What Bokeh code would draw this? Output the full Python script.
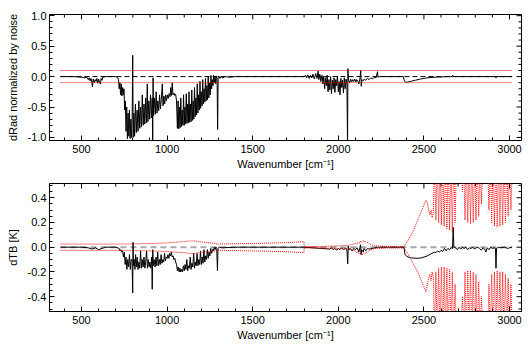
from bokeh.plotting import figure
from bokeh.models import Range1d, FixedTicker, PrintfTickFormatter
from bokeh.layouts import column
from bokeh.embed import file_html
from bokeh.resources import INLINE

FONT = "Liberation Sans"

# ---------------- data ----------------
x_ticks = [500, 1000, 1500, 2000, 2500, 3000]
x_minor = [400, 600, 700, 800, 900, 1100, 1200, 1300, 1400, 1600, 1700, 1800, 1900,
           2100, 2200, 2300, 2400, 2600, 2700, 2800, 2900, 3000]
top_yticks = [-1.0, -0.5, 0.0, 0.5, 1.0]
top_yminor = [-1.0, -0.9, -0.8, -0.7, -0.6, -0.4, -0.3, -0.2, -0.1, 0.1, 0.2, 0.3, 0.4,
              0.6, 0.7, 0.8, 0.9]
bot_yticks = [-0.4, -0.2, 0.0, 0.2, 0.4]
bot_yminor = [-0.5, -0.45, -0.35, -0.3, -0.25, -0.15, -0.1, -0.05, 0.05, 0.1, 0.15, 0.25,
              0.3, 0.35, 0.45, 0.5]

# dRad normalized by noise (wavenumber, value)
drad_pts = [
    (377, 0), (450, 0), (500, -0.01), (520, -0.02), (530, -0.01), (540, -0.05), (545, -0.02),
    (550, -0.07), (555, -0.03), (560, -0.09), (564, -0.17), (568, -0.04), (574, -0.1),
    (580, -0.05), (585, -0.08), (590, -0.03), (595, -0.11), (600, -0.04), (605, -0.09),
    (610, -0.12), (615, -0.03), (620, -0.06), (625, -0.01), (640, 0), (700, 0), (712, -0.02),
    (716, -0.05), (720, -0.2), (724, -0.1), (728, -0.3), (732, -0.12), (736, -0.32),
    (740, -0.18), (744, -0.3), (748, -0.2), (752, -0.55), (756, -0.4), (760, -0.9),
    (764, -0.5), (768, -1.02), (772, -0.6), (776, -0.98), (780, -0.55), (784, -1.02),
    (788, -0.7), (792, -1.0), (796, -0.65), (799, 0.35), (802, -1.0),
    (806, -0.6), (810, -0.98), (815, -0.45), (820, -0.92), (825, -0.55), (830, -0.9),
    (835, -0.4), (840, -0.85), (845, -0.5), (850, -0.83), (855, -0.3), (860, -0.8),
    (865, -0.45), (870, -0.78), (875, -0.35), (880, -0.76), (884, -0.12), (888, -0.74),
    (893, -0.4), (898, -0.7), (903, -0.3), (908, -0.68), (913, -0.35), (916, -1.1),
    (918, -0.02), (921, -0.64), (926, -0.35), (931, -0.62), (936, -0.25), (941, -0.6),
    (946, -0.4), (951, -0.56), (956, -0.3), (961, -0.53), (966, -0.38), (972, -0.12),
    (976, -0.48), (981, -0.32), (986, -0.45), (991, -0.3), (996, -0.4), (1001, -0.3),
    (1006, -0.36), (1012, -0.28), (1017, -0.33), (1021, -0.18), (1025, -0.31), (1030, -0.1),
    (1034, -0.3), (1040, -0.27), (1045, -0.31), (1050, -0.29), (1055, -0.4),
    (1060, -0.85), (1064, -0.4), (1068, -0.86), (1072, -0.5), (1076, -0.84), (1080, -0.35),
    (1084, -0.82), (1088, -0.55), (1092, -0.8), (1096, -0.3), (1100, -0.8), (1104, -0.5),
    (1108, -0.78), (1112, -0.28), (1116, -0.77), (1120, -0.45), (1124, -0.76), (1128, -0.25),
    (1132, -0.75), (1136, -0.45), (1140, -0.74), (1144, -0.22), (1148, -0.72), (1152, -0.4),
    (1156, -0.7), (1160, -0.18), (1164, -0.66), (1168, -0.35), (1172, -0.63), (1176, -0.12),
    (1180, -0.6), (1184, -0.3), (1188, -0.55), (1192, -0.08), (1196, -0.52), (1200, -0.25),
    (1204, -0.48), (1208, -0.05), (1212, -0.45), (1216, -0.2), (1220, -0.42), (1224, -0.03),
    (1228, -0.4), (1232, -0.15), (1236, -0.38), (1240, 0.0), (1244, -0.35), (1248, -0.1),
    (1252, -0.3), (1256, 0.02), (1260, -0.2), (1264, -0.05), (1268, -0.15), (1272, 0.02),
    (1276, -0.1), (1280, 0.0), (1284, -0.12), (1288, 0.01), (1292, -0.05), (1295, -0.87),
    (1298, -0.02), (1302, 0.01), (1308, -0.03), (1315, 0.0), (1325, -0.02), (1340, 0.0),
    (1360, -0.01), (1400, 0.0), (1800, 0.0),
    (1810, 0.02), (1815, -0.02), (1822, 0.03), (1830, -0.03), (1838, 0.02), (1845, -0.02),
    (1852, 0.04), (1860, -0.04), (1868, 0.05), (1875, -0.03), (1882, 0.09), (1886, -0.05),
    (1892, 0.04), (1898, -0.08), (1905, 0.02), (1910, -0.12), (1915, 0.01), (1920, -0.2),
    (1925, -0.02), (1930, -0.15), (1935, 0.02), (1940, -0.25), (1945, -0.05), (1950, -0.22),
    (1955, 0.0), (1960, -0.28), (1965, -0.06), (1970, -0.2), (1975, -0.02), (1980, -0.26),
    (1985, -0.05), (1990, -0.15), (1995, 0.01), (2000, -0.25), (2005, -0.08), (2010, -0.3),
    (2015, -0.03), (2020, -0.18), (2025, -0.06), (2030, -0.27), (2035, -0.02), (2040, -0.2),
    (2045, -0.04), (2050, -0.1), (2054, -1.1), (2056, 0.13), (2060, -0.06), (2066, -0.1),
    (2072, -0.04), (2078, -0.09), (2084, -0.05), (2090, -0.08), (2096, -0.04), (2102, -0.09),
    (2108, -0.05), (2114, -0.07), (2120, -0.12), (2126, -0.04), (2131, 0.1), (2134, -0.16),
    (2138, -0.05), (2145, -0.07), (2152, -0.04), (2160, -0.06), (2170, -0.03), (2180, -0.05),
    (2190, -0.02), (2200, -0.04), (2210, -0.01), (2220, -0.02), (2229, 0.08), (2232, -0.01),
    (2240, 0.0), (2380, 0.0),
    (2385, -0.06), (2392, -0.09), (2400, -0.095), (2420, -0.08), (2450, -0.06), (2480, -0.04),
    (2510, -0.025), (2540, -0.015), (2580, -0.008), (2620, -0.003), (2665, 0.0), (2668, 0.02),
    (2672, 0.0), (2918, 0.0), (2921, -0.02), (2924, 0.0), (3015, 0.0),
]

# dTB [K] (wavenumber, value)
dtb_pts = [
    (377, 0), (500, 0), (540, -0.005), (560, -0.015), (580, -0.005), (600, -0.02), (620, -0.01),
    (640, 0), (700, 0), (720, -0.01), (725, -0.03), (730, -0.02), (735, -0.04), (740, -0.03),
    (745, -0.08), (750, -0.04), (755, -0.14), (760, -0.08), (765, -0.18), (770, -0.1),
    (775, -0.16), (780, -0.06), (785, -0.18), (790, -0.1), (795, -0.1), (799, -0.37),
    (801, 0.04), (804, -0.15), (808, -0.1), (812, -0.18), (816, -0.06), (820, -0.16),
    (825, -0.08), (830, -0.18), (835, -0.12), (840, -0.17), (845, -0.03), (850, -0.17),
    (855, -0.1), (860, -0.16), (865, -0.08), (870, -0.17), (875, -0.12), (880, -0.03),
    (885, -0.17), (890, -0.1), (895, -0.16), (900, -0.12), (905, -0.17), (910, -0.08),
    (913, -0.34), (916, -0.02), (920, -0.15), (925, -0.1), (930, -0.16), (935, -0.08),
    (940, -0.15), (945, -0.04), (950, -0.15), (955, -0.1), (960, -0.14), (965, -0.06),
    (970, -0.13), (975, -0.1), (980, -0.12), (985, -0.05), (990, -0.11), (995, -0.08),
    (1000, -0.09), (1005, -0.06), (1010, -0.09), (1015, -0.05), (1020, -0.07), (1025, -0.04),
    (1030, -0.08), (1035, -0.07), (1040, -0.1), (1045, -0.09), (1050, -0.12), (1055, -0.14),
    (1060, -0.19), (1065, -0.16), (1070, -0.2), (1075, -0.17), (1080, -0.2), (1085, -0.18),
    (1090, -0.2), (1095, -0.15), (1100, -0.19), (1105, -0.14), (1110, -0.18), (1115, -0.1),
    (1120, -0.19), (1125, -0.15), (1130, -0.17), (1135, -0.08), (1140, -0.18), (1145, -0.13),
    (1150, -0.16), (1155, -0.05), (1160, -0.17), (1165, -0.12), (1170, -0.15), (1175, -0.05),
    (1180, -0.15), (1185, -0.1), (1190, -0.14), (1195, -0.03), (1200, -0.14), (1205, -0.08),
    (1210, -0.13), (1215, -0.02), (1220, -0.12), (1225, -0.07), (1230, -0.1), (1235, -0.02),
    (1240, -0.09), (1245, -0.04), (1250, -0.07), (1255, -0.01), (1260, -0.05), (1265, -0.02),
    (1270, -0.03), (1275, 0.0), (1280, -0.02), (1285, 0.0), (1290, -0.01), (1294, -0.19),
    (1297, -0.01), (1305, 0.0), (1320, -0.005), (1400, 0), (1800, 0),
    (1850, -0.005), (1900, -0.01), (1950, -0.015), (1960, -0.005), (1970, -0.02), (1980, -0.01),
    (1990, -0.025), (2000, -0.01), (2010, -0.02), (2020, -0.005), (2030, -0.02), (2040, -0.01),
    (2050, -0.015), (2055, -0.135), (2058, 0.01), (2062, -0.02), (2070, -0.01), (2080, -0.03),
    (2090, -0.01), (2100, -0.02), (2110, -0.005), (2120, -0.04), (2130, 0.02), (2133, -0.06),
    (2136, -0.02), (2145, -0.04), (2150, -0.01), (2160, -0.03), (2170, -0.01), (2180, -0.015),
    (2200, -0.01), (2230, 0.0), (2383, 0.0),
    (2390, -0.06), (2400, -0.075), (2420, -0.085), (2440, -0.088), (2460, -0.09),
    (2480, -0.088), (2500, -0.08), (2520, -0.07), (2540, -0.055), (2560, -0.04), (2570, -0.045),
    (2580, -0.03), (2590, -0.04), (2600, -0.025), (2610, -0.035), (2620, -0.01), (2630, -0.03),
    (2640, -0.01), (2650, -0.02), (2660, -0.005), (2667, -0.01), (2671, 0.16), (2675, 0.0),
    (2685, -0.005), (2695, -0.02), (2705, 0.0), (2715, -0.015), (2725, 0.0), (2735, -0.01),
    (2745, 0.0), (2755, -0.02), (2765, -0.005), (2775, -0.01), (2785, 0.0), (2795, -0.015),
    (2805, -0.005), (2815, 0.0), (2825, -0.01), (2835, -0.025), (2845, -0.005), (2855, -0.015),
    (2862, -0.04), (2870, -0.005), (2880, -0.02), (2890, 0.0), (2900, -0.01), (2910, -0.005),
    (2918, -0.01), (2921, -0.17), (2924, -0.01), (2935, 0.0), (2950, -0.005), (2970, 0.0),
    (2990, -0.01), (3000, -0.005), (3015, 0.0),
]

# noise envelope in dTB: (wavenumber, upper, lower)
noise_pts = [
    (377, 0.025, -0.025), (500, 0.025, -0.025), (600, 0.025, -0.025), (700, 0.025, -0.025),
    (800, 0.027, -0.027), (900, 0.03, -0.03), (1000, 0.035, -0.035), (1050, 0.04, -0.04),
    (1100, 0.045, -0.045), (1130, 0.05, -0.05), (1150, 0.052, -0.052), (1170, 0.048, -0.048),
    (1200, 0.042, -0.042), (1250, 0.035, -0.035), (1300, 0.025, -0.025), (1400, 0.028, -0.028),
    (1500, 0.03, -0.03), (1600, 0.033, -0.033), (1700, 0.037, -0.037), (1799, 0.045, -0.045),
    (1801, 0.006, -0.006), (1900, 0.006, -0.006), (2000, 0.01, -0.01), (2050, 0.015, -0.015),
    (2080, 0.02, -0.02), (2100, 0.03, -0.03), (2108, 0.022, -0.045), (2115, 0.04, -0.035),
    (2122, 0.03, -0.055), (2130, 0.05, -0.045), (2137, 0.04, -0.065), (2145, 0.055, -0.05),
    (2152, 0.04, -0.06), (2160, 0.045, -0.045), (2175, 0.035, -0.035), (2190, 0.02, -0.02),
    (2210, 0.012, -0.012), (2250, 0.008, -0.008), (2300, 0.006, -0.006), (2383, 0.006, -0.006),
    (2395, 0.03, -0.03), (2410, 0.06, -0.06), (2425, 0.1, -0.1), (2440, 0.14, -0.14),
    (2455, 0.19, -0.18), (2470, 0.24, -0.22), (2485, 0.29, -0.27), (2500, 0.34, -0.32),
    (2512, 0.38, -0.36), (2520, 0.36, -0.3), (2528, 0.3, -0.25), (2535, 0.26, -0.22),
    (2542, 0.3, -0.27), (2548, 0.24, -0.2), (2555, 0.28, -0.24), (2562, 0.7, -0.7),
    (2570, 0.22, -0.2), (2578, 0.7, -0.7), (2586, 0.2, -0.17), (2594, 0.7, -0.7),
    (2602, 0.18, -0.16), (2610, 0.7, -0.7), (2618, 0.17, -0.16), (2626, 0.7, -0.7),
    (2634, 0.15, -0.17), (2642, 0.7, -0.7), (2650, 0.14, -0.18), (2658, 0.7, -0.7),
    (2666, 0.12, -0.2), (2674, 0.7, -0.7), (2682, 0.2, -0.3), (2690, 0.7, -0.7),
    (2700, 0.6, -0.6), (2715, 0.7, -0.7), (2725, 0.45, -0.4), (2732, 0.7, -0.7),
    (2740, 0.22, -0.2), (2748, 0.7, -0.7), (2756, 0.2, -0.19), (2764, 0.7, -0.7),
    (2772, 0.19, -0.19), (2780, 0.7, -0.7), (2788, 0.2, -0.2), (2796, 0.7, -0.7),
    (2804, 0.22, -0.22), (2812, 0.7, -0.7), (2820, 0.25, -0.28), (2828, 0.7, -0.7),
    (2836, 0.35, -0.4), (2845, 0.7, -0.7), (2860, 0.6, -0.6), (2872, 0.7, -0.7),
    (2880, 0.3, -0.3), (2888, 0.7, -0.7), (2896, 0.2, -0.22), (2904, 0.7, -0.7),
    (2912, 0.17, -0.2), (2920, 0.7, -0.7), (2928, 0.16, -0.19), (2936, 0.7, -0.7),
    (2944, 0.17, -0.2), (2952, 0.7, -0.7), (2960, 0.18, -0.2), (2968, 0.7, -0.7),
    (2976, 0.2, -0.22), (2984, 0.7, -0.7), (2992, 0.25, -0.25), (3000, 0.7, -0.7),
    (3008, 0.3, -0.3), (3015, 0.6, -0.6),
]

span_w = [377, 3015]
thresh_hi = [0.1, 0.1]
thresh_lo = [-0.1, -0.1]
zero_line = [0.0, 0.0]

drad_w = [p[0] for p in drad_pts]
drad_v = [p[1] for p in drad_pts]
dtb_w = [p[0] for p in dtb_pts]
dtb_v = [p[1] for p in dtb_pts]
noise_w = [p[0] for p in noise_pts]
noise_hi = [p[1] for p in noise_pts]
noise_lo = [p[2] for p in noise_pts]

XMIN, XMAX = 313, 3070
FRAME_W = 472


def style_axis(ax, ticks, minor, fmt=None):
    ax.ticker = FixedTicker(ticks=ticks, minor_ticks=minor)
    ax.major_tick_in = 5
    ax.major_tick_out = 0
    ax.minor_tick_in = 3
    ax.minor_tick_out = 0
    ax.axis_line_color = "black"
    ax.major_tick_line_color = "black"
    ax.minor_tick_line_color = "black"
    ax.major_label_text_font = FONT
    ax.major_label_text_color = "black"
    ax.major_label_text_font_size = "11px"
    ax.axis_label_text_font = FONT
    ax.axis_label_text_font_style = "normal"
    ax.axis_label_text_font_size = "11px"
    ax.axis_label_text_color = "black"
    if fmt is not None:
        ax.formatter = fmt


def mirror_ticks(p, ymin, ymax, frame_h, yticks, yminor):
    # tick marks on the top and right frame edges (no labels), as in the original
    dx_maj = (XMAX - XMIN) * 5.0 / FRAME_W
    dx_min = (XMAX - XMIN) * 3.0 / FRAME_W
    dy_maj = (ymax - ymin) * 5.0 / frame_h
    dy_min = (ymax - ymin) * 3.0 / frame_h
    p.segment(x0=x_ticks, y0=[ymax] * len(x_ticks), x1=x_ticks,
              y1=[ymax - dy_maj] * len(x_ticks), line_color="black", line_width=1)
    p.segment(x0=x_minor, y0=[ymax] * len(x_minor), x1=x_minor,
              y1=[ymax - dy_min] * len(x_minor), line_color="black", line_width=1)
    p.segment(x0=[XMAX] * len(yticks), y0=yticks, x1=[XMAX - dx_maj] * len(yticks),
              y1=yticks, line_color="black", line_width=1)
    p.segment(x0=[XMAX] * len(yminor), y0=yminor, x1=[XMAX - dx_min] * len(yminor),
              y1=yminor, line_color="black", line_width=1)


def make_fig(ymin, ymax, yticks, yminor, ylabel, top, bottom, frame_h):
    p = figure(width=529, height=172, x_range=Range1d(XMIN, XMAX),
               y_range=Range1d(ymin, ymax), output_backend="svg",
               toolbar_location=None, min_border_left=49, min_border_right=8,
               min_border_top=top, min_border_bottom=bottom)
    p.grid.visible = False
    p.outline_line_color = "black"
    p.background_fill_color = "white"
    p.border_fill_color = "white"
    style_axis(p.xaxis[0], x_ticks, x_minor)
    p.xaxis[0].axis_label = "Wavenumber [cm\u207b\u00b9]"
    p.xaxis[0].major_label_standoff = 4
    p.xaxis[0].axis_label_standoff = 2
    style_axis(p.yaxis[0], yticks, yminor, fmt=PrintfTickFormatter(format="%.1f"))
    p.yaxis[0].axis_label = ylabel
    p.yaxis[0].major_label_standoff = 3
    p.yaxis[0].axis_label_standoff = 6
    mirror_ticks(p, ymin, ymax, frame_h, yticks, yminor)
    return p


p1 = make_fig(-1.05, 1.02, top_yticks, top_yminor, "dRad normalized by noise", 14, 31, 127)
p1.line(drad_w, drad_v, line_color="black", line_width=1)
p1.line(span_w, zero_line, line_color="black", line_width=1, line_dash="5 3")
p1.line(span_w, thresh_hi, line_color="#ff0000", line_width=1, line_dash="1 1")
p1.line(span_w, thresh_lo, line_color="#ff0000", line_width=1, line_dash="1 1")

p2 = make_fig(-0.52, 0.515, bot_yticks, bot_yminor, "dTB [K]", 11, 33, 128)
p2.line(span_w, zero_line, line_color="#a8a8a8", line_width=2, line_dash="6 4")
p2.line(dtb_w, dtb_v, line_color="black", line_width=1)
p2.line(noise_w, noise_hi, line_color="#ff0000", line_width=1, line_dash="1 1")
p2.line(noise_w, noise_lo, line_color="#ff0000", line_width=1, line_dash="1 1")

layout = column(p1, p2, spacing=0)
open("out.html", "w").write(file_html(layout, INLINE))
